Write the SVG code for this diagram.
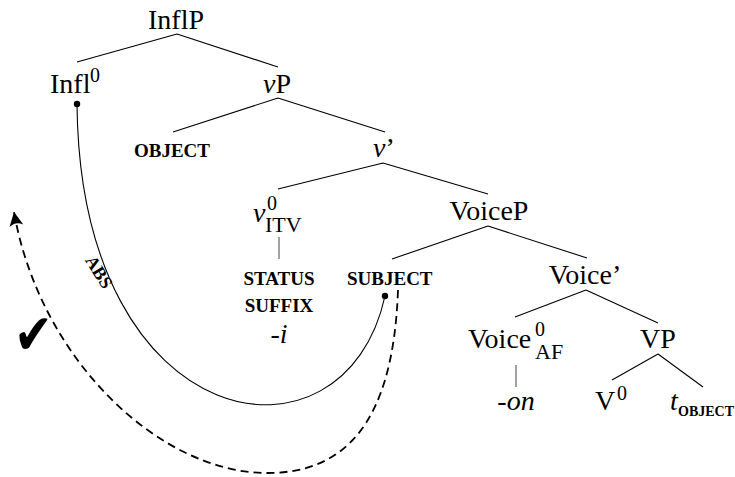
<svg xmlns="http://www.w3.org/2000/svg" width="735" height="477" viewBox="0 0 735 477">
<style>
text{font-family:"Liberation Serif","Times New Roman",serif;fill:#000}
.n{font-size:28px}
.c{text-anchor:middle}
.i{font-style:italic}
.sc{font-size:19px;font-weight:bold}
.sup{font-size:20px}
.sub{font-size:22px}
.e{stroke:#000;stroke-width:1.1;fill:none}
.g{stroke:#555;stroke-width:1.1;fill:none}
</style>
<defs>
<marker id="ah" markerWidth="20" markerHeight="20" refX="15" refY="10" orient="auto" markerUnits="userSpaceOnUse">
<path d="M15,10 L1,3 Q6,10 1,17 Z" fill="#000"/>
</marker>
</defs>
<g id="connectors">
<path class="e" d="M177,34 L77,62 M177,34 L278,67"/>
<path class="e" d="M278,98 L173,132 M278,98 L385,132"/>
<path class="e" d="M383,163 L278,189 M383,163 L488,194"/>
<path class="g" d="M279,237 L279,259"/>
<path class="e" d="M488,226 L392,259 M488,226 L587,258"/>
<path class="e" d="M586,290 L515,317 M586,290 L658,323"/>
<path class="g" d="M516,365 L516,387"/>
<path class="e" d="M658,354 L612,380 M658,354 L703,387"/>
<path id="abs-arc" class="e" d="M77,104 C80,440 345,480 385,296"/>
<circle cx="77" cy="104" r="3.2"/>
<circle cx="385" cy="296" r="3.2"/>
<path id="dashed-arc" d="M398,290 C393,430 340,473 267,473 C160,473 40,360 14,212" fill="none" stroke="#000" stroke-width="1.8" stroke-dasharray="8,5" marker-end="url(#ah)"/>
<g transform="translate(99,272) rotate(58)"><text class="c" x="0" y="6" style="font-size:18px;font-weight:bold">ABS</text></g>
<g transform="translate(14,354) scale(1.1,1.35)"><text x="0" y="0" style="font-family:'DejaVu Sans',sans-serif;font-size:42px">✔</text></g>
</g>
<g id="InflP"><text class="n c" x="176" y="29">InflP</text></g>
<g id="Infl0"><text class="n" x="50" y="93">Infl</text><text class="sup" x="90" y="82">0</text></g>
<g id="vP"><text class="n" x="263" y="93"><tspan class="i">v</tspan>P</text></g>
<g id="OBJECT"><text class="sc c" x="172" y="157">OBJECT</text></g>
<g id="vbar"><text class="n" x="373" y="157"><tspan class="i">v</tspan>’</text></g>
<g id="v0"><text class="n i" x="253" y="222">v</text><text class="sup" x="267" y="210">0</text><text class="sub" x="265" y="232">ITV</text></g>
<g id="status"><text class="sc c" x="279" y="285">STATUS</text><text class="sc c" x="279" y="312">SUFFIX</text><text class="n c i" x="279" y="343">-i</text></g>
<g id="SUBJECT"><text class="sc" x="347" y="285">SUBJECT</text></g>
<g id="VoiceP"><text class="n c" x="489" y="220">VoiceP</text></g>
<g id="Voicebar"><text class="n c" x="585" y="284">Voice’</text></g>
<g id="Voice0"><text class="n" x="468" y="348">Voice</text><text class="sup" x="535" y="336">0</text><text class="sub" x="535" y="359">AF</text></g>
<g id="on"><text class="n c i" x="516" y="410">-on</text></g>
<g id="VP"><text class="n c" x="658" y="348">VP</text></g>
<g id="V0"><text class="n" x="595" y="410">V</text><text class="sup" x="617" y="400">0</text></g>
<g id="tOBJECT"><text class="n i" x="670" y="410">t</text><text x="678" y="416" style="font-size:14px;font-weight:bold">OBJECT</text></g>
</svg>
